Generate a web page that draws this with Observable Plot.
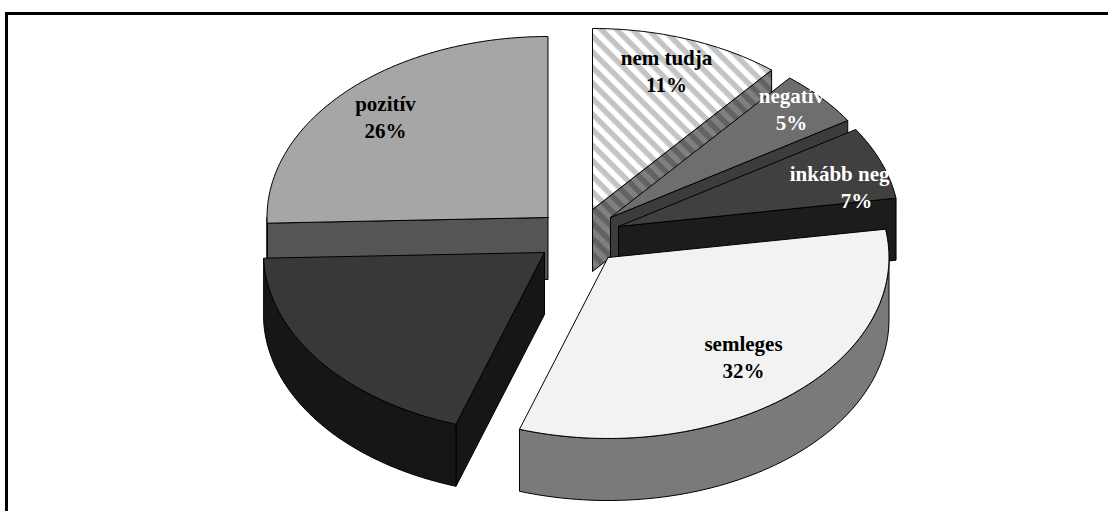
<!DOCTYPE html>
<html>
<head>
<meta charset="utf-8">
<script src="https://cdn.jsdelivr.net/npm/d3@7"></script>
<script src="https://cdn.jsdelivr.net/npm/@observablehq/plot@0.6"></script>
<style>
html,body{margin:0;padding:0;background:#fff;overflow:hidden}
svg{display:block}
</style>
</head>
<body>
<div id="chart"></div>
<script>
// Data, clockwise from 12 o'clock
const categories = ["nem tudja", "negatív", "inkább negatív", "semleges", "", "pozitív"];
const shares = [11, 5, 6.5, 32.6, 19.4, 25.5];
const percentLabels = ["11%", "5%", "7%", "32%", "", "26%"];
const labelColors = ["#000", "#fff", "#fff", "#000", "#000", "#000"];

// Styles
const topColors = ["url(#hatch)", "#6e6e6e", "#404040", "#f2f2f2", "#383838", "#a6a6a6"];
const wallColors = ["url(#hatchDark)", "#3c3c3c", "#1c1c1c", "#7a7a7a", "#161616", "#555555"];

// Layout in pixels
const W = 1108, H = 511;
const RX = 281, RY = 181, CX = 578, CY = 225, DEPTH = 62;
const apexPx = [[592, 209], [610, 217], [618, 226], [607.5, 257], [544, 252], [547.5, 217]];
const labelPx = [[666, 69], [791, 107.5], [856, 185], [743, 355], null, [385, 115]];
const drawOrder = [5, 0, 1, 2, 4, 3];

// Chart units: pie radius = 1 on both axes
const ux = (px) => (px - CX) / RX;
const uy = (py) => (CY - py) / RY;
const depth = DEPTH / RY;

const rad = (d) => (d * Math.PI) / 180;
const total = d3.sum(shares);
const cum = d3.cumsum(shares);
const slices = shares.map((s, i) => ({
  i,
  start: ((cum[i] - s) / total) * 360,
  end: (cum[i] / total) * 360,
  ax: ux(apexPx[i][0]),
  ay: uy(apexPx[i][1])
}));

function rim(sl, a, drop = 0) {
  return {x: sl.ax + Math.sin(rad(a)), y: sl.ay + Math.cos(rad(a)) - drop};
}
function arc(sl, a0, a1, drop = 0) {
  const n = Math.max(2, Math.ceil(Math.abs(a1 - a0) / 1.5));
  return d3.range(n + 1).map((k) => rim(sl, a0 + ((a1 - a0) * k) / n, drop));
}
function closed(pts) { return [...pts, pts[0]]; }
function topFace(sl) {
  return closed([{x: sl.ax, y: sl.ay}, ...arc(sl, sl.start, sl.end)]);
}
function radialFace(sl, a) {
  const r = rim(sl, a);
  return closed([
    {x: sl.ax, y: sl.ay}, r,
    {x: r.x, y: r.y - depth},
    {x: sl.ax, y: sl.ay - depth}
  ]);
}
function outerWall(sl) {
  const a0 = Math.max(sl.start, 90), a1 = Math.min(sl.end, 270);
  if (a1 <= a0) return null;
  return closed([...arc(sl, a0, a1), ...arc(sl, a1, a0, depth)]);
}

const poly = (pts, fill) =>
  Plot.line(pts, {x: "x", y: "y", fill, stroke: "#000", strokeWidth: 1, strokeLinejoin: "round", curve: "linear"});

const marks = [];
for (const i of drawOrder) {
  const sl = slices[i];
  const wall = outerWall(sl);
  if (sl.end < 180) marks.push(poly(radialFace(sl, sl.end), wallColors[i]));
  if (sl.start > 180) marks.push(poly(radialFace(sl, sl.start), wallColors[i]));
  if (wall) marks.push(poly(wall, wallColors[i]));
  marks.push(poly(topFace(sl), topColors[i]));
}

// Labels
const labels = categories.map((c, i) => ({
  text: c + "\n" + percentLabels[i], color: labelColors[i], pos: labelPx[i]
})).filter((d) => d.pos);
marks.push(Plot.text(labels, {
  x: (d) => ux(d.pos[0]), y: (d) => uy(d.pos[1]),
  text: "text", fill: "color", lineHeight: 1.29, textAnchor: "middle",
  fontFamily: "Liberation Serif", fontWeight: "bold", fontSize: 21
}));

// Chart frame (top and left edges only are in view)
marks.push(Plot.ruleY([uy(13)], {x1: ux(5), x2: ux(W), stroke: "#000", strokeWidth: 3}));
marks.push(Plot.ruleX([ux(6)], {y1: uy(13), y2: uy(H), stroke: "#000", strokeWidth: 3}));

const chart = Plot.plot({
  width: W, height: H,
  marginTop: 0, marginRight: 0, marginBottom: 0, marginLeft: 0,
  x: {domain: [ux(0), ux(W)], axis: null},
  y: {domain: [uy(H), uy(0)], axis: null},
  style: {background: "#fff"},
  marks
});

const defs = d3.select(chart).insert("defs", ":first-child");
function hatch(id, bg, fg) {
  const p = defs.append("pattern").attr("id", id).attr("patternUnits", "userSpaceOnUse")
    .attr("width", 11).attr("height", 11).attr("patternTransform", "rotate(45)");
  p.append("rect").attr("width", 11).attr("height", 11).attr("fill", bg);
  p.append("rect").attr("width", 11).attr("height", 5.5).attr("fill", fg);
}
hatch("hatch", "#ffffff", "#c4c4c4");
hatch("hatchDark", "#808080", "#626262");

document.getElementById("chart").appendChild(chart);
</script>
</body>
</html>
